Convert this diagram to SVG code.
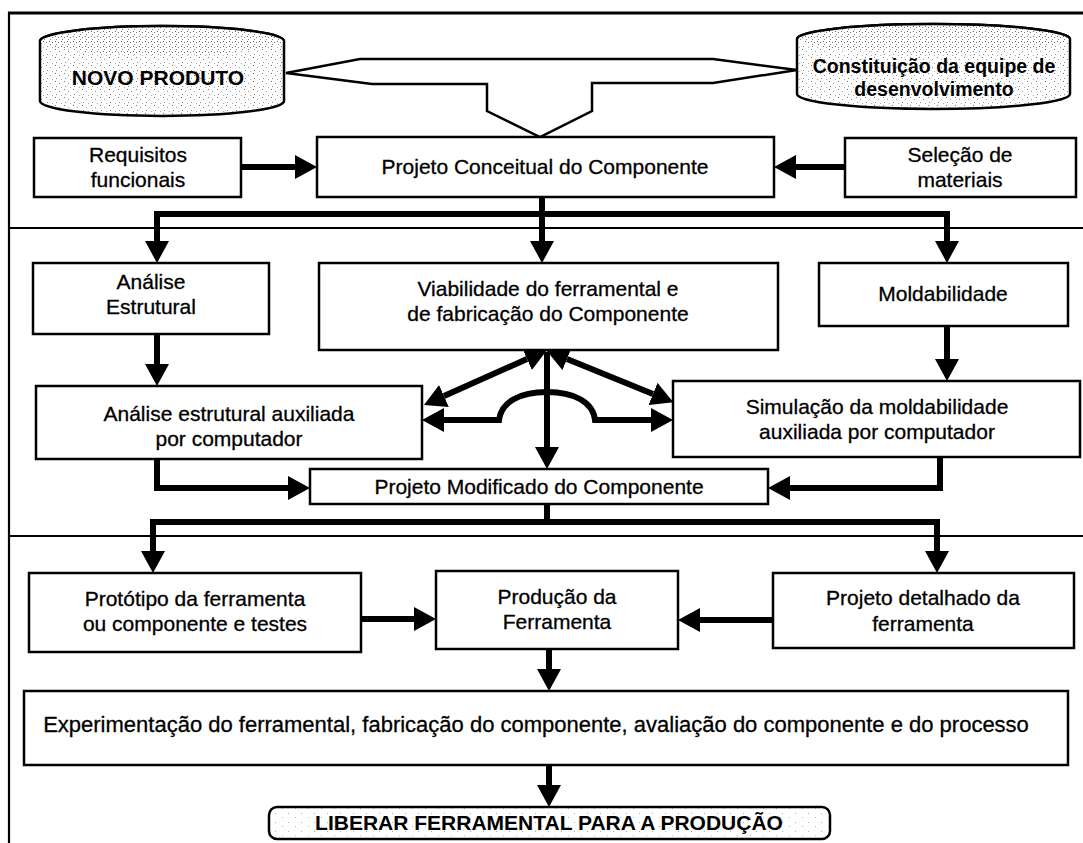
<svg xmlns="http://www.w3.org/2000/svg" width="1083" height="843" viewBox="0 0 1083 843">
<style>
.box{fill:#fff;stroke:#000;stroke-width:2.5}
.frame{fill:none;stroke:#000;stroke-width:2.2}
.t{font-family:"Liberation Sans",Arial,sans-serif;font-size:21px;fill:#000;stroke:#000;stroke-width:0.3;text-anchor:middle}
.tb{font-family:"Liberation Sans",Arial,sans-serif;font-weight:bold;fill:#000;text-anchor:middle}
.c{fill:none;stroke:#000;stroke-width:6;stroke-linejoin:miter}
.ca{marker-end:url(#ah)}
.cb{marker-start:url(#ah);marker-end:url(#ah)}
.thin{fill:#fff;stroke:#000;stroke-width:2.5;stroke-linejoin:miter}
</style>
<defs>
<marker id="ah" viewBox="0 0 22 24" refX="0" refY="12" markerWidth="22" markerHeight="24" markerUnits="userSpaceOnUse" orient="auto-start-reverse">
<path d="M0,0 L22,12 L0,24 z" fill="#000"/>
</marker>
<pattern id="stip" width="9" height="8" patternUnits="userSpaceOnUse">
<rect width="9" height="8" fill="#fff"/>
<rect x="1" y="1" width="1" height="1" fill="#777"/>
<rect x="5" y="3" width="1" height="1" fill="#999"/>
<rect x="2" y="6" width="1" height="1" fill="#888"/>
<rect x="7" y="7" width="1" height="1" fill="#aaa"/>
</pattern>
<pattern id="stip2" width="6" height="5" patternUnits="userSpaceOnUse">
<rect width="6" height="5" fill="#fff"/>
<rect x="1" y="1" width="1" height="1" fill="#666"/>
<rect x="4" y="2" width="1" height="1" fill="#777"/>
<rect x="2" y="4" width="1" height="1" fill="#888"/>
</pattern>
<pattern id="stip3" width="13" height="9" patternUnits="userSpaceOnUse">
<rect width="13" height="9" fill="#fff"/>
<rect x="2" y="3" width="1" height="1" fill="#aaa"/>
<rect x="9" y="7" width="1" height="1" fill="#bbb"/>
</pattern>
</defs>
<rect width="1083" height="843" fill="#fff"/>

<g id="frame">
<line class="frame" x1="8" y1="13" x2="1083" y2="13" style="stroke-width:3"/>
<line class="frame" x1="9" y1="12" x2="9" y2="843"/>
<line class="frame" x1="9" y1="228" x2="1083" y2="228"/>
<line class="frame" x1="9" y1="536" x2="1083" y2="536"/>
</g>

<g id="connectors">
<path class="thin" d="M286,73 L360,59 L713,59 L797,70 L713,83 L592,83 L592,111 L540,137 L487,111 L487,84 L372,84 Z"/>
<path class="c ca" d="M241,167 H295"/>
<path class="c ca" d="M845,167 H796"/>
<path class="c ca" d="M542,197 V241"/>
<path class="c ca" d="M542,214 H157 V241"/>
<path class="c ca" d="M542,214 H947 V241"/>
<path class="c ca" d="M157,334 V364"/>
<path class="c ca" d="M947,326 V359"/>
<path class="c ca" d="M157,459 V488 H288"/>
<path class="c ca" d="M940,457 V488 H790"/>
<path class="c ca" d="M547,352 V447"/>
<path class="c cb" d="M527,359 L444,396"/>
<path class="c cb" d="M567,359 L653,394"/>
<path class="c cb" d="M444,420 H499 C501,402 520,392 547,392 C574,392 593,402 595,420 H651"/>
<path class="c" d="M547,504 V522"/>
<path class="c ca" d="M547,522 H153 V551"/>
<path class="c ca" d="M547,522 H937 V551"/>
<path class="c ca" d="M361,619 H414"/>
<path class="c ca" d="M773,620 H700"/>
<path class="c ca" d="M549,649 V669"/>
<path class="c ca" d="M549,765 V785"/>
</g>

<g id="novo-produto">
<path d="M40,41 A122,15 0 0 1 284,41 V101 A122,15 0 0 1 40,101 Z" fill="url(#stip)" stroke="#000" stroke-width="2.5"/>
<ellipse cx="162" cy="41" rx="121" ry="14" fill="url(#stip2)"/>
<path d="M40,41 A122,15 0 0 1 284,41" fill="none" stroke="#000" stroke-width="2.5"/>
<text class="tb" x="158" y="85" font-size="21">NOVO PRODUTO</text>
</g>

<g id="equipe">
<path d="M797,39 A136.5,15 0 0 1 1070,39 V94 A136.5,15 0 0 1 797,94 Z" fill="url(#stip)" stroke="#000" stroke-width="2.5"/>
<ellipse cx="933.5" cy="39" rx="135" ry="14" fill="url(#stip2)"/>
<path d="M797,39 A136.5,15 0 0 1 1070,39" fill="none" stroke="#000" stroke-width="2.5"/>
<text class="tb" x="934" y="73" font-size="19.5">Constituição da equipe de</text>
<text class="tb" x="934" y="96" font-size="19.5">desenvolvimento</text>
</g>

<g id="requisitos">
<rect class="box" x="34" y="138" width="207" height="59"/>
<text class="t" x="138" y="162">Requisitos</text>
<text class="t" x="138" y="187">funcionais</text>
</g>

<g id="projeto-conceitual">
<rect class="box" x="317" y="137" width="457" height="60"/>
<text class="t" x="545" y="174">Projeto Conceitual do Componente</text>
</g>

<g id="selecao">
<rect class="box" x="845" y="138" width="231" height="59"/>
<text class="t" x="960" y="162">Seleção de</text>
<text class="t" x="960" y="187">materiais</text>
</g>

<g id="analise-estrutural">
<rect class="box" x="33" y="263" width="236" height="71"/>
<text class="t" x="151" y="289">Análise</text>
<text class="t" x="151" y="314">Estrutural</text>
</g>

<g id="viabilidade">
<rect class="box" x="319" y="263" width="459" height="87"/>
<text class="t" x="548" y="296">Viabilidade do ferramental e</text>
<text class="t" x="548" y="321">de fabricação do Componente</text>
</g>

<g id="moldabilidade">
<rect class="box" x="819" y="263" width="249" height="63"/>
<text class="t" x="943" y="301">Moldabilidade</text>
</g>

<g id="analise-auxiliada">
<rect class="box" x="36" y="386" width="386" height="73"/>
<text class="t" x="229" y="421">Análise estrutural auxiliada</text>
<text class="t" x="229" y="446">por computador</text>
</g>

<g id="simulacao">
<rect class="box" x="673" y="381" width="407" height="76"/>
<text class="t" x="877" y="414">Simulação da moldabilidade</text>
<text class="t" x="877" y="439">auxiliada por computador</text>
</g>

<g id="projeto-modificado">
<rect class="box" x="310" y="469" width="458" height="35"/>
<text class="t" x="539" y="494">Projeto Modificado do Componente</text>
</g>

<g id="prototipo">
<rect class="box" x="29" y="573" width="332" height="79"/>
<text class="t" x="195" y="606">Protótipo da ferramenta</text>
<text class="t" x="195" y="631">ou componente e testes</text>
</g>

<g id="producao">
<rect class="box" x="436" y="571" width="242" height="78"/>
<text class="t" x="557" y="604">Produção da</text>
<text class="t" x="557" y="629">Ferramenta</text>
</g>

<g id="projeto-detalhado">
<rect class="box" x="773" y="573" width="301" height="75"/>
<text class="t" x="923" y="605">Projeto detalhado da</text>
<text class="t" x="923" y="631">ferramenta</text>
</g>

<g id="experimentacao">
<rect class="box" x="24" y="691" width="1044" height="74"/>
<text class="t" x="536" y="732" style="font-size:22px">Experimentação do ferramental, fabricação do componente, avaliação do componente e do processo</text>
</g>

<g id="liberar">
<rect x="269" y="807" width="561" height="32" rx="8" ry="8" fill="url(#stip3)" stroke="#000" stroke-width="2.5"/>
<text class="tb" x="549" y="830" font-size="21">LIBERAR FERRAMENTAL PARA A PRODUÇÃO</text>
</g>
</svg>
